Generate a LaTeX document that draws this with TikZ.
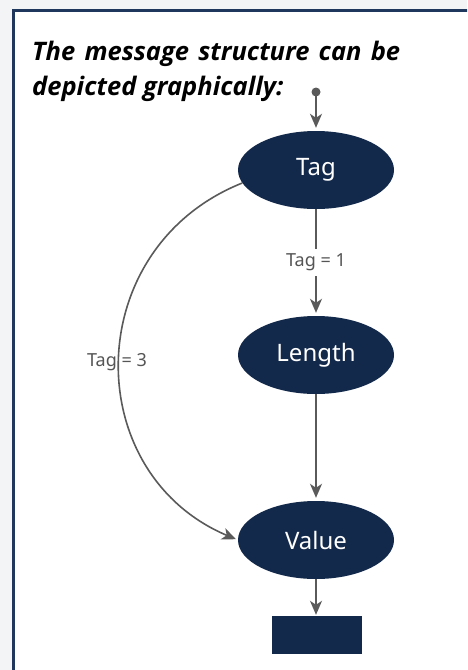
\documentclass[tikz,border=0pt]{standalone}
\usepackage{fontspec}
\setmainfont{Noto Sans}
\newfontfamily\titlefont{Open Sans}
\usetikzlibrary{arrows.meta,shapes.geometric}
\definecolor{navy}{HTML}{13294B}
\definecolor{framec}{HTML}{1F375C}
\definecolor{bgc}{HTML}{F3F4F6}
\definecolor{linec}{HTML}{5A5A5A}
\definecolor{labc}{HTML}{555555}
\tikzset{
  fieldnode/.style={ellipse, fill=navy, draw=none, minimum width=156pt, minimum height=78pt, inner sep=0pt, text=white, font=\fontsize{24}{28}\selectfont},
  endbox/.style={rectangle, fill=navy, draw=none, minimum width=90pt, minimum height=38pt, inner sep=0pt},
  conn/.style={draw=linec, line width=1.6pt, -{Stealth[length=14pt,width=12pt,inset=4pt]}},
  lab/.style={text=labc, font=\fontsize{18}{21}\selectfont, inner sep=0pt},
}
\begin{document}
\begin{tikzpicture}[x=1pt,y=-1pt]
\useasboundingbox (0,0) rectangle (467,670);
\fill[bgc] (0,0) rectangle (467,670);
\begin{scope}
\clip (0,0) rectangle (467,670);
\draw[framec, line width=3pt, fill=white] (13.5,10.5) rectangle (490,690);
\end{scope}
\node[anchor=base west, inner sep=0pt, font=\titlefont\bfseries\itshape\fontsize{25.5}{30}\selectfont] (t1) at (32,60) {\makebox[368pt][s]{The message structure can be}};
\node[anchor=base west, inner sep=0pt, font=\titlefont\bfseries\itshape\fontsize{25.5}{30}\selectfont] (t2) at (32,95) {depicted graphically:};
\node[circle, fill=linec, minimum size=9pt, inner sep=0pt] (start) at (316,92) {};
\node[fieldnode] (tag) at (316,170) {Tag};
\node[fieldnode] (len) at (316,355) {Length};
\node[fieldnode] (val) at (316,540) {Value};
\node[endbox] (end) at (316.5,635) {};
\draw[conn, shorten >=3pt] (start.center) -- (tag.north);
\draw[conn, shorten >=3pt] (tag.south) -- node[lab, fill=white, inner ysep=5pt, inner xsep=1pt] (l1) {Tag = 1} (len.north);
\draw[conn, shorten >=3pt] (len.south) -- (val.north);
\draw[conn, shorten >=1pt] (val.south) -- (val.south |- end.north);
\draw[conn, shorten >=2pt] (tag.190) .. controls (80,248) and (79,473) .. (val.180);
\node[lab] (l3) at (117,362) {Tag = 3};
\end{tikzpicture}
\end{document}
